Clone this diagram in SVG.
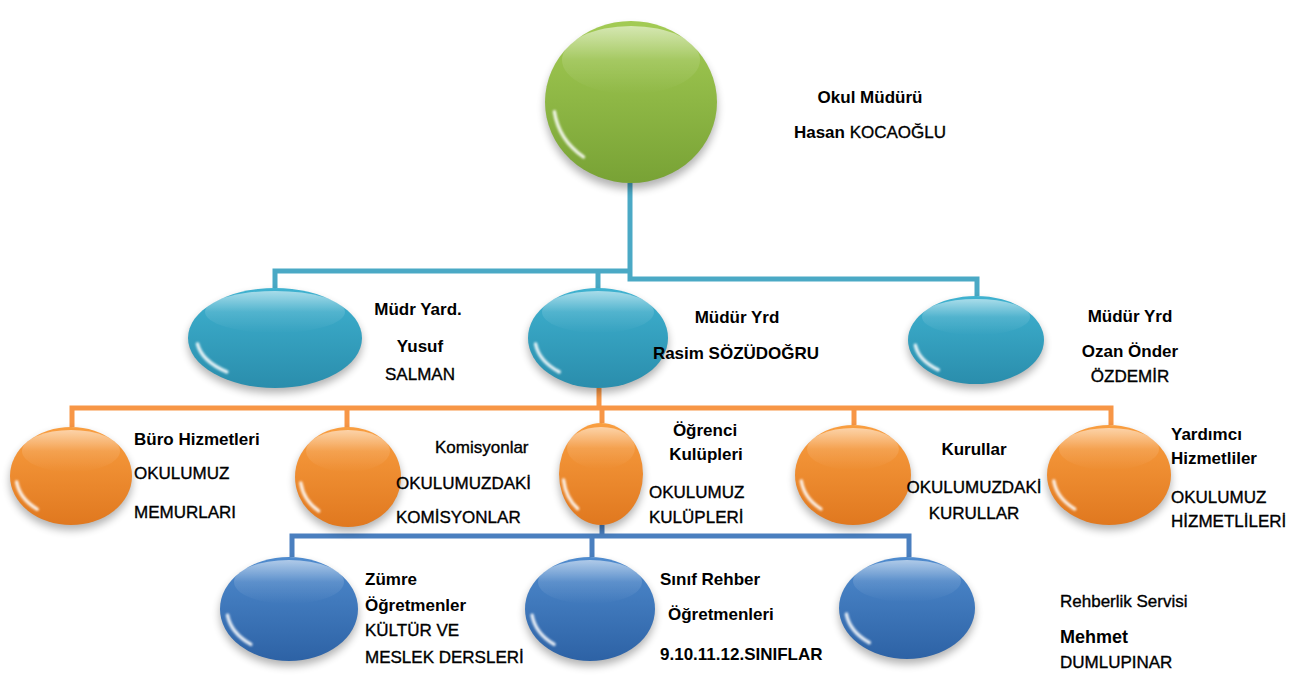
<svg xmlns="http://www.w3.org/2000/svg" width="1294" height="675" viewBox="0 0 1294 675">
<defs>
<linearGradient id="gGreen" x1="0" y1="0" x2="0" y2="1"><stop offset="0" stop-color="#a3cb54"/><stop offset="1" stop-color="#78a235"/></linearGradient>
<linearGradient id="gCyan" x1="0" y1="0" x2="0" y2="1"><stop offset="0" stop-color="#3fb2d0"/><stop offset="1" stop-color="#2a8dac"/></linearGradient>
<linearGradient id="gOrange" x1="0" y1="0" x2="0" y2="1"><stop offset="0" stop-color="#f99e40"/><stop offset="1" stop-color="#e0781f"/></linearGradient>
<linearGradient id="gBlue" x1="0" y1="0" x2="0" y2="1"><stop offset="0" stop-color="#4f8bce"/><stop offset="1" stop-color="#2d62a5"/></linearGradient>
<linearGradient id="gloss" x1="0" y1="0" x2="0" y2="1"><stop offset="0" stop-color="#fff" stop-opacity="0.55"/><stop offset="0.5" stop-color="#fff" stop-opacity="0.12"/><stop offset="1" stop-color="#fff" stop-opacity="0"/></linearGradient>
<filter id="blur" x="-20%" y="-20%" width="140%" height="140%"><feGaussianBlur stdDeviation="4"/></filter>
<filter id="soft" x="-20%" y="-20%" width="140%" height="140%"><feGaussianBlur stdDeviation="1"/></filter>
</defs>
<style>
.shadow{fill:#000;opacity:0.3;filter:url(#blur)}
.green{fill:url(#gGreen)}
.cyan{fill:url(#gCyan)}
.orange{fill:url(#gOrange)}
.blue{fill:url(#gBlue)}
.gloss{fill:url(#gloss)}
.glint{fill:none;stroke:#fff;stroke-width:3.5;stroke-linecap:round;opacity:0.85;filter:url(#soft)}
.conn{fill:none;stroke-width:5}
.c1{stroke:#4aa9c5}
.c2{stroke:#f79646}
.c3{stroke:#4a7fbf}
text{font-family:"Liberation Sans",Arial,sans-serif;font-size:17px;fill:#000;stroke:#000;stroke-width:0.35}
.b{font-weight:bold;stroke-width:0}
.m{text-anchor:middle}
</style>
<rect width="1294" height="675" fill="#fff"/>

<g id="connectors">
<path class="conn c1" d="M630 183 V279 H977 V296"/>
<path class="conn c1" d="M632 271 H275 V288"/>
<path class="conn c1" d="M598 271 V290"/>
<path class="conn c2" d="M599 388 V408"/>
<path class="conn c2" d="M72 427 V408 H1111 V425"/>
<path class="conn c2" d="M347 408 V428"/>
<path class="conn c2" d="M602 408 V423"/>
<path class="conn c2" d="M854 408 V425"/>
<path class="conn c3" d="M602 525 V536"/>
<path class="conn c3" d="M292 557 V536 H909 V557"/>
<path class="conn c3" d="M592 536 V557"/>
</g>

<g id="okul-muduru">
<ellipse class="shadow" cx="631" cy="108" rx="86" ry="81"/>
<ellipse class="green" cx="631" cy="102" rx="86" ry="81"/>
<ellipse class="gloss" cx="631" cy="60" rx="69" ry="34"/>
<path class="glint" d="M554.4 111.7 A77.4 69.7 0 0 0 583.4 156.9"/>
<text class="b m" x="870" y="103">Okul Müdürü</text>
<text class="m" x="870" y="138"><tspan class="b">Hasan</tspan> KOCAOĞLU</text>
</g>

<g id="mudur-yard-yusuf">
<ellipse class="shadow" cx="275" cy="343" rx="87" ry="50"/>
<ellipse class="cyan" cx="275" cy="338" rx="87" ry="50"/>
<ellipse class="gloss" cx="275" cy="312" rx="70" ry="21"/>
<path class="glint" d="M197.5 344 A78.3 43 0 0 0 226.8 371.9"/>
<text class="b m" x="418" y="315">Müdr Yard.</text>
<text class="b m" x="420" y="352">Yusuf</text>
<text class="m" x="420" y="380">SALMAN</text>
</g>

<g id="mudur-yrd-rasim">
<ellipse class="shadow" cx="598" cy="343" rx="70" ry="50"/>
<ellipse class="cyan" cx="598" cy="338" rx="70" ry="50"/>
<ellipse class="gloss" cx="598" cy="312" rx="56" ry="21"/>
<path class="glint" d="M535.6 344 A63 43 0 0 0 559.2 371.9"/>
<text class="b m" x="737" y="323">Müdür Yrd</text>
<text class="b m" x="736" y="359">Rasim SÖZÜDOĞRU</text>
</g>

<g id="mudur-yrd-ozan">
<ellipse class="shadow" cx="976" cy="345" rx="68" ry="44"/>
<ellipse class="cyan" cx="976" cy="340" rx="68" ry="44"/>
<ellipse class="gloss" cx="976" cy="317" rx="54" ry="18"/>
<path class="glint" d="M915.4 345.3 A61.2 37.8 0 0 0 938.3 369.8"/>
<text class="b m" x="1130" y="322">Müdür Yrd</text>
<text class="b m" x="1130" y="357">Ozan Önder</text>
<text class="m" x="1130" y="382">ÖZDEMİR</text>
</g>

<g id="buro-hizmetleri">
<ellipse class="shadow" cx="71" cy="481" rx="61" ry="49"/>
<ellipse class="orange" cx="71" cy="476" rx="61" ry="49"/>
<ellipse class="gloss" cx="71" cy="451" rx="49" ry="21"/>
<path class="glint" d="M16.6 481.9 A54.9 42.1 0 0 0 37.2 509.2"/>
<text class="b" x="134" y="445">Büro Hizmetleri</text>
<text x="134" y="479">OKULUMUZ</text>
<text x="134" y="518">MEMURLARI</text>
</g>

<g id="komisyonlar">
<ellipse class="shadow" cx="348" cy="482" rx="53" ry="50"/>
<ellipse class="orange" cx="348" cy="477" rx="53" ry="50"/>
<ellipse class="gloss" cx="348" cy="451" rx="42" ry="21"/>
<path class="glint" d="M300.8 483 A47.7 43 0 0 0 318.6 510.9"/>
<text x="435" y="453">Komisyonlar</text>
<text x="396" y="489">OKULUMUZDAKİ</text>
<text x="396" y="523">KOMİSYONLAR</text>
</g>

<g id="ogrenci-kulupleri">
<ellipse class="shadow" cx="601" cy="479" rx="42" ry="51"/>
<ellipse class="orange" cx="601" cy="474" rx="42" ry="51"/>
<ellipse class="gloss" cx="601" cy="448" rx="34" ry="21"/>
<path class="glint" d="M563.6 480.1 A37.8 43.9 0 0 0 577.7 508.6"/>
<text class="b m" x="705" y="436">Öğrenci</text>
<text class="b m" x="706" y="460">Kulüpleri</text>
<text x="649" y="498">OKULUMUZ</text>
<text x="649" y="523">KULÜPLERİ</text>
</g>

<g id="kurullar">
<ellipse class="shadow" cx="853" cy="480" rx="58" ry="50"/>
<ellipse class="orange" cx="853" cy="475" rx="58" ry="50"/>
<ellipse class="gloss" cx="853" cy="449" rx="46" ry="21"/>
<path class="glint" d="M801.3 481 A52.2 43 0 0 0 820.9 508.9"/>
<text class="b m" x="974" y="455">Kurullar</text>
<text class="m" x="974" y="493">OKULUMUZDAKİ</text>
<text class="m" x="974" y="519">KURULLAR</text>
</g>

<g id="yardimci-hizmetliler">
<ellipse class="shadow" cx="1109" cy="480" rx="62" ry="50"/>
<ellipse class="orange" cx="1109" cy="475" rx="62" ry="50"/>
<ellipse class="gloss" cx="1109" cy="449" rx="50" ry="21"/>
<path class="glint" d="M1053.8 481 A55.8 43 0 0 0 1074.7 508.9"/>
<text class="b" x="1171" y="440">Yardımcı</text>
<text class="b" x="1171" y="464">Hizmetliler</text>
<text x="1171" y="503">OKULUMUZ</text>
<text x="1171" y="527">HİZMETLİLERİ</text>
</g>

<g id="zumre-ogretmenler">
<ellipse class="shadow" cx="289" cy="614" rx="69" ry="52"/>
<ellipse class="blue" cx="289" cy="609" rx="69" ry="52"/>
<ellipse class="gloss" cx="289" cy="582" rx="55" ry="22"/>
<path class="glint" d="M227.5 615.2 A62.1 44.7 0 0 0 250.8 644.3"/>
<text class="b" x="365" y="585">Zümre</text>
<text class="b" x="365" y="611">Öğretmenler</text>
<text x="365" y="636">KÜLTÜR VE</text>
<text x="365" y="663">MESLEK DERSLERİ</text>
</g>

<g id="sinif-rehber">
<ellipse class="shadow" cx="590" cy="614" rx="65" ry="52"/>
<ellipse class="blue" cx="590" cy="609" rx="65" ry="52"/>
<ellipse class="gloss" cx="590" cy="582" rx="52" ry="22"/>
<path class="glint" d="M532.1 615.2 A58.5 44.7 0 0 0 554 644.3"/>
<text class="b" x="660" y="585">Sınıf Rehber</text>
<text class="b" x="668" y="620">Öğretmenleri</text>
<text class="b" x="660" y="660">9.10.11.12.SINIFLAR</text>
</g>

<g id="rehberlik-servisi">
<ellipse class="shadow" cx="907" cy="613" rx="68" ry="51"/>
<ellipse class="blue" cx="907" cy="608" rx="68" ry="51"/>
<ellipse class="gloss" cx="907" cy="581" rx="54" ry="21"/>
<path class="glint" d="M846.4 614.1 A61.2 43.9 0 0 0 869.3 642.6"/>
<text x="1060" y="607">Rehberlik Servisi</text>
<text class="b" x="1060" y="643" style="font-size:18px">Mehmet</text>
<text x="1060" y="668">DUMLUPINAR</text>
</g>
</svg>
